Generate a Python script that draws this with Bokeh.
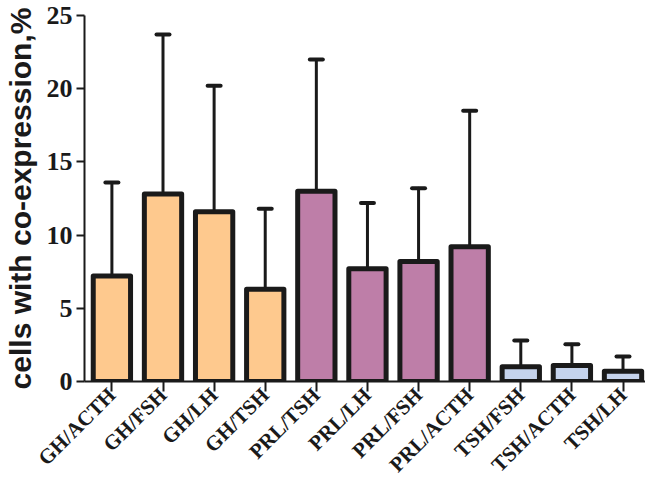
import math
from bokeh.plotting import figure
from bokeh.models import ColumnDataSource, Range1d, Whisker, TeeHead, FixedTicker
from bokeh.embed import file_html
from bokeh.resources import INLINE

categories = ["GH/ACTH", "GH/FSH", "GH/LH", "GH/TSH", "PRL/TSH", "PRL/LH",
              "PRL/FSH", "PRL/ACTH", "TSH/FSH", "TSH/ACTH", "TSH/LH"]
means = [7.2, 12.8, 11.6, 6.3, 13.0, 7.7, 8.2, 9.2, 1.0, 1.1, 0.7]
upper = [13.6, 23.7, 20.2, 11.8, 22.0, 12.2, 13.2, 18.5, 2.8, 2.55, 1.7]
groups = ["GH"] * 4 + ["PRL"] * 4 + ["TSH"] * 3
group_colors = {"GH": "#FEC98E", "PRL": "#BE7EA8", "TSH": "#C5D3EC"}
y_ticks = [0, 5, 10, 15, 20, 25]
y_title = "cells with co-expression,%"

xs = list(range(len(categories)))
src = ColumnDataSource(dict(
    x=xs, mean=means, upper=upper,
    color=[group_colors[g] for g in groups],
))

p = figure(width=645, height=488, output_backend="svg", toolbar_location=None,
           x_range=Range1d(-0.536, 10.44), y_range=Range1d(0, 25),
           min_border_left=84, min_border_right=0, min_border_top=15,
           min_border_bottom=100)
p.outline_line_color = None
p.grid.visible = False

ax_color = "#1a1a1a"

wh = Whisker(source=src, base="x", lower="mean", upper="upper",
             line_width=3, line_color=ax_color, line_cap="round",
             upper_head=TeeHead(size=13, line_width=4, line_color=ax_color, line_cap="round"),
             lower_head=None, level="underlay")
p.add_layout(wh)

p.vbar(x="x", top="mean", bottom=0, width=0.73, source=src,
       fill_color="color", line_color=ax_color, line_width=5, line_join="round")

# y axis
p.yaxis.ticker = FixedTicker(ticks=y_ticks)
p.yaxis.minor_tick_line_color = None
p.yaxis.major_tick_in = 0
p.yaxis.major_tick_out = 8
p.yaxis.major_tick_line_width = 2
p.yaxis.axis_line_width = 2
p.yaxis.axis_line_color = ax_color
p.yaxis.major_tick_line_color = ax_color
p.yaxis.major_label_text_font = "Liberation Serif"
p.yaxis.major_label_text_font_style = "bold"
p.yaxis.major_label_text_font_size = "26px"
p.yaxis.major_label_text_color = ax_color
p.yaxis.major_label_standoff = 4
p.yaxis.axis_label = y_title
p.yaxis.axis_label_text_font = "Liberation Sans"
p.yaxis.axis_label_text_font_style = "bold"
p.yaxis.axis_label_text_font_size = "30px"
p.yaxis.axis_label_text_color = ax_color
p.yaxis.axis_label_standoff = 7

# x axis
p.xaxis.ticker = FixedTicker(ticks=xs)
p.xaxis.major_label_overrides = {i: c for i, c in enumerate(categories)}
p.xaxis.minor_tick_line_color = None
p.xaxis.major_tick_in = 0
p.xaxis.major_tick_out = 10
p.xaxis.major_tick_line_width = 2
p.xaxis.axis_line_width = 2
p.xaxis.axis_line_color = ax_color
p.xaxis.major_tick_line_color = ax_color
p.xaxis.major_label_orientation = math.pi / 4
p.xaxis.major_label_text_font = "Liberation Serif"
p.xaxis.major_label_text_font_style = "bold"
p.xaxis.major_label_text_font_size = "21px"
p.xaxis.major_label_text_color = ax_color
p.xaxis.major_label_standoff = 0

open("out.html", "w").write(file_html(p, INLINE))
